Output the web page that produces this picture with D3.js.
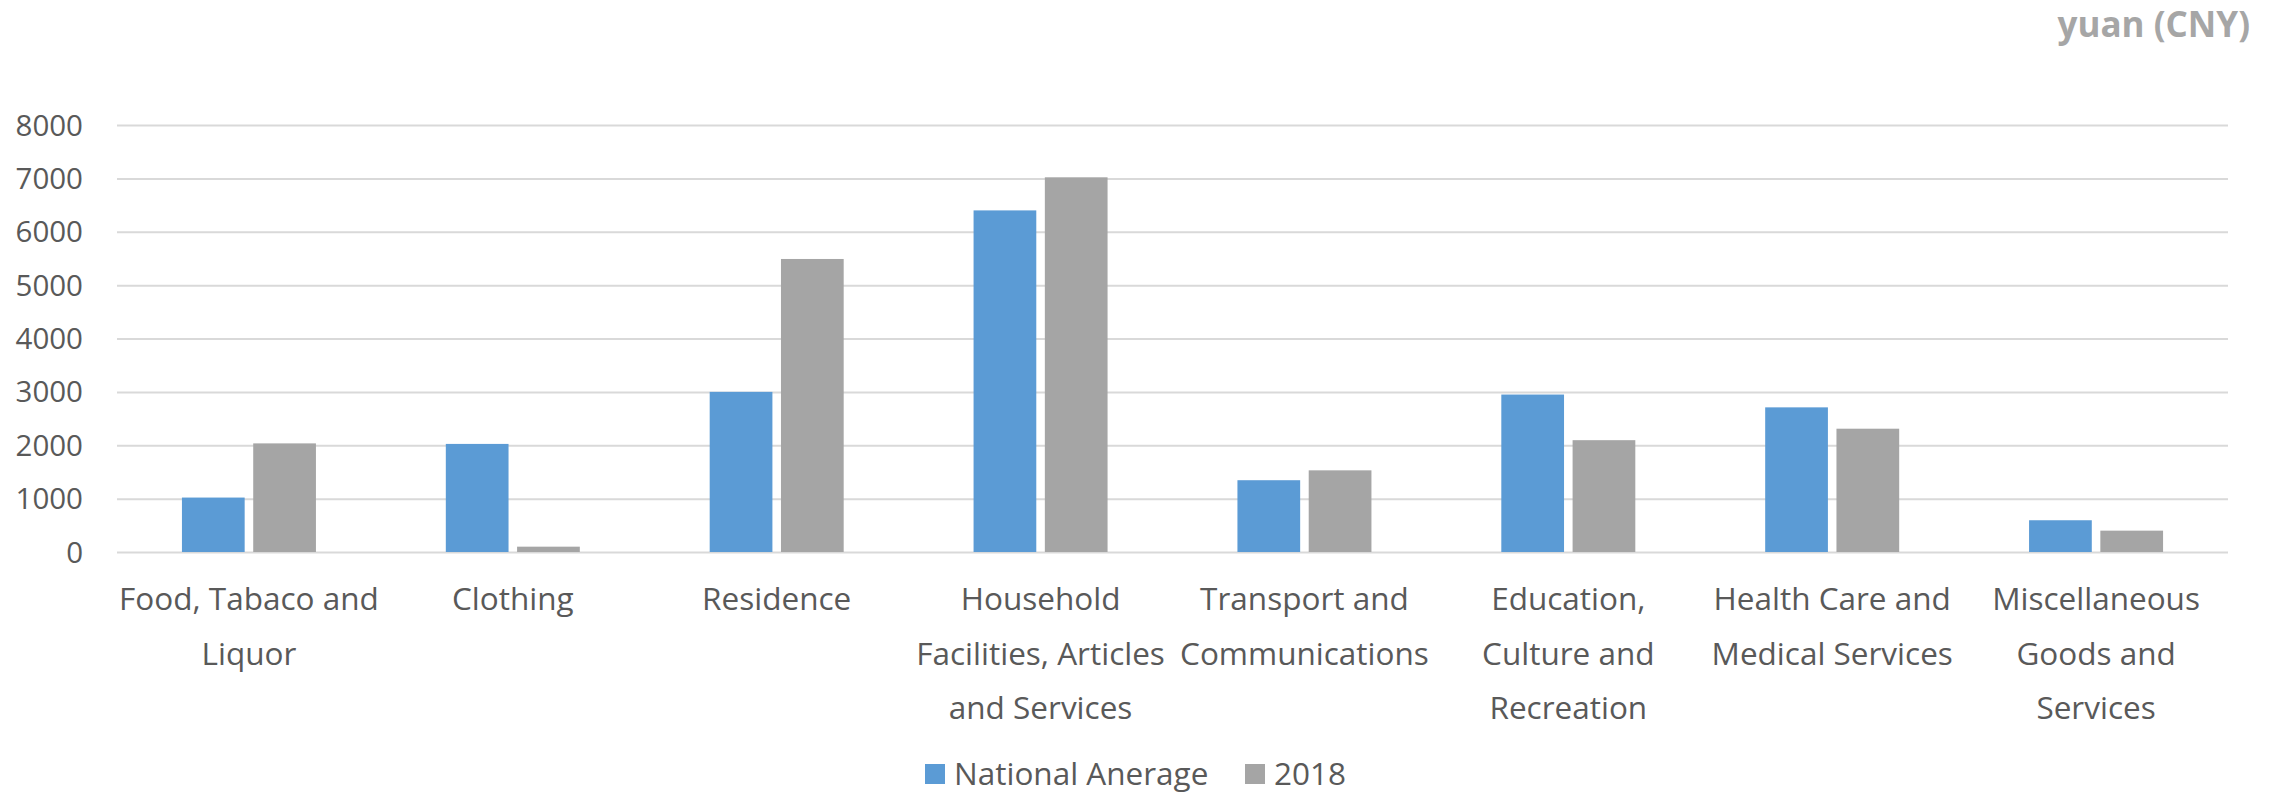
<!DOCTYPE html>
<html lang="en">
<head>
<meta charset="UTF-8">
<title>Consumption expenditure by category</title>
<style>
  body { margin: 0; background: #fff; }
  .grid line { stroke: #d9d9d9; stroke-width: 2; }
  .grid .domain { display: none; }
  text { font-family: "Open Sans", "Noto Sans", sans-serif; fill: #595959; }
</style>
</head>
<body>
<svg width="2283" height="793"></svg>
<script src="https://d3js.org/d3.v7.min.js"></script>
<script>

var categories = ["Food, Tabaco and Liquor", "Clothing", "Residence",
  "Household Facilities, Articles and Services", "Transport and Communications",
  "Education, Culture and Recreation", "Health Care and Medical Services",
  "Miscellaneous Goods and Services"];

// wrapped category labels as they appear under the axis
var categoryLines = [
  ["Food, Tabaco and", "Liquor"],
  ["Clothing"],
  ["Residence"],
  ["Household", "Facilities, Articles", "and Services"],
  ["Transport and", "Communications"],
  ["Education,", "Culture and", "Recreation"],
  ["Health Care and", "Medical Services"],
  ["Miscellaneous", "Goods and", "Services"]
];

var seriesNames = ["National Anerage", "2018"];
var nationalAverage = [1020, 2025, 3000, 6400, 1345, 2950, 2710, 595];
var year2018 = [2035, 100, 5490, 7020, 1530, 2095, 2310, 400];
var yTicks = [0, 1000, 2000, 3000, 4000, 5000, 6000, 7000, 8000];
var colors = ["#5b9bd5", "#a5a5a5"];

var svg = d3.select("svg"),
    margin = {top: 125, right: 55, bottom: 241, left: 117},
    width = +svg.attr("width") - margin.left - margin.right,
    height = +svg.attr("height") - margin.top - margin.bottom,
    g = svg.append("g").attr("transform", "translate(" + margin.left + "," + margin.top + ")");

var data = categories.map(function(c, i) {
  return {cat: c, values: [nationalAverage[i], year2018[i]]};
});

var groupW = 134;
var x0 = d3.scaleBand().domain(categories).range([0, width]);
var x1 = d3.scaleBand().domain([0, 1]).range([0, groupW]).paddingInner(0.12);
var y = d3.scaleLinear().domain([0, 8000]).range([height, 0]);

// gridlines
g.append("g")
    .attr("class", "grid")
    .call(d3.axisLeft(y).tickValues(yTicks).tickSize(-width).tickFormat(""));

// y tick labels
g.append("g")
  .selectAll("text")
  .data(yTicks)
  .enter().append("text")
    .attr("x", -34)
    .attr("y", function(d) { return y(d); })
    .attr("dy", "0.36em")
    .attr("text-anchor", "end")
    .attr("font-size", 29.5)
    .text(function(d) { return d; });

// bars
g.append("g")
  .selectAll("g")
  .data(data)
  .enter().append("g")
    .attr("transform", function(d) { return "translate(" + (x0(d.cat) + (x0.bandwidth() - groupW) / 2) + ",0)"; })
  .selectAll("rect")
  .data(function(d) { return d.values.map(function(v, k) { return {k: k, v: v}; }); })
  .enter().append("rect")
    .attr("x", function(d) { return x1(d.k); })
    .attr("y", function(d) { return y(d.v); })
    .attr("width", x1.bandwidth())
    .attr("height", function(d) { return height - y(d.v); })
    .attr("fill", function(d) { return colors[d.k]; });

// category labels
var labels = g.append("g")
  .selectAll("text")
  .data(categories)
  .enter().append("text")
    .attr("text-anchor", "middle")
    .attr("font-size", 31.5)
    .attr("transform", function(d) { return "translate(" + (x0(d) + x0.bandwidth() / 2) + "," + (height + 58) + ")"; });

labels.selectAll("tspan")
  .data(function(d, i) { return categoryLines[i]; })
  .enter().append("tspan")
    .attr("x", 0)
    .attr("y", function(d, i) { return i * 54.5; })
    .text(function(d) { return d; });

// unit label
svg.append("text")
    .attr("x", 2250)
    .attr("y", 37)
    .attr("text-anchor", "end")
    .attr("font-size", 35)
    .attr("font-weight", "bold")
    .style("fill", "#a6a6a6")
    .text("yuan (CNY)");

// legend
var legend = svg.append("g")
  .selectAll("g")
  .data(seriesNames)
  .enter().append("g")
    .attr("transform", function(d, i) { return "translate(" + (i == 0 ? 925 : 1245) + ",784)"; });

legend.append("rect")
    .attr("x", 0)
    .attr("y", -20)
    .attr("width", 20)
    .attr("height", 20)
    .attr("fill", function(d, i) { return colors[i]; });

legend.append("text")
    .attr("x", 29)
    .attr("y", 1)
    .attr("font-size", 31.5)
    .text(function(d) { return d; });

</script>
</body>
</html>
